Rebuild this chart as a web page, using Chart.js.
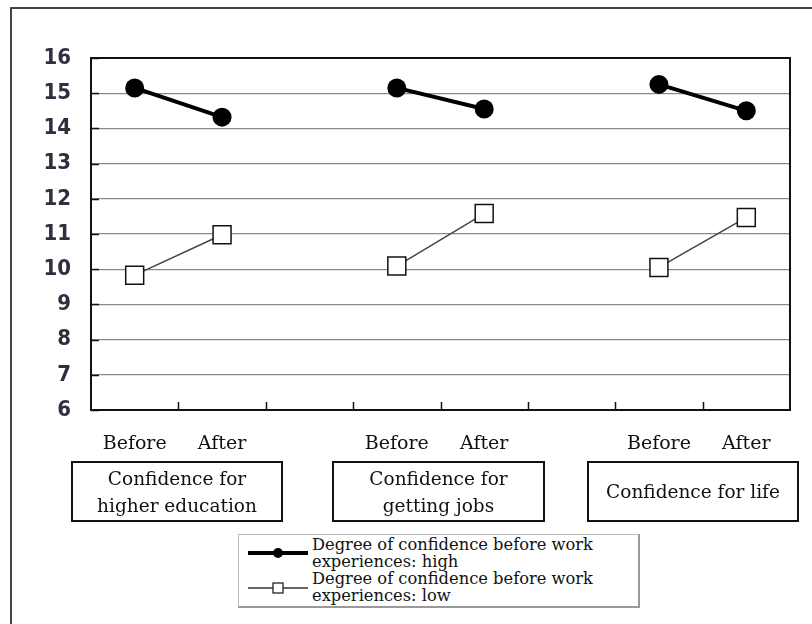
<!DOCTYPE html>
<html>
<head>
<meta charset="utf-8">
<script src="https://cdn.jsdelivr.net/npm/chart.js@4.4.1/dist/chart.umd.min.js"></script>
<style>
  html, body { margin: 0; padding: 0; background: #fff; overflow: hidden; }
  body { width: 812px; height: 624px; position: relative; }
  #frame { position: absolute; left: 10px; top: 7px; width: 900px; height: 700px;
           border: 2px solid #444; box-sizing: border-box; }
  #chart { position: absolute; left: 0; top: 0; }
  .cat { position: absolute; top: 461px; height: 61px; border: 2px solid #111; box-sizing: border-box;
         display: flex; align-items: center; justify-content: center; text-align: center;
         font-family: "DejaVu Serif", serif; font-size: 18.5px; line-height: 27px; color: #111; }
  #legend { position: absolute; left: 238px; top: 534px; width: 402px; height: 74px;
            border: 1px solid #bbb; border-right: 2px solid #999; border-bottom: 2px solid #999;
            box-sizing: border-box; }
  #legend svg { position: absolute; left: 9px; top: 0; }
  #legend .txt { position: absolute; left: 73px; top: 1px; font-family: "DejaVu Serif", serif;
                 font-size: 16.3px; line-height: 17px; color: #111; white-space: nowrap; }
</style>
</head>
<body>
<div id="frame"></div>
<canvas id="chart" width="812" height="470"></canvas>
<div class="cat" style="left:71px;width:212px;">Confidence for<br>higher education</div>
<div class="cat" style="left:332px;width:213px;">Confidence for<br>getting jobs</div>
<div class="cat" style="left:587px;width:212px;">Confidence for life</div>
<div id="legend">
  <svg width="62" height="72">
    <line x1="0" y1="18" x2="60" y2="18" stroke="#000" stroke-width="4"/>
    <circle cx="30" cy="18" r="5" fill="#000"/>
    <line x1="0" y1="53" x2="60" y2="53" stroke="#333" stroke-width="1.5"/>
    <rect x="25" y="48" width="10" height="10" fill="#fff" stroke="#222" stroke-width="1.3"/>
  </svg>
  <div class="txt" id="legend-text"></div>
</div>
<script>
// categories (blank slots separate the three groups)
const categories = ["Before", "After", "", "Before", "After", "", "Before", "After"];
const seriesNames = [
  "Degree of confidence before work experiences: high",
  "Degree of confidence before work experiences: low"
];
const highValues = [15.15, 14.32, null, 15.15, 14.55, null, 15.25, 14.5];
const lowValues = [9.83, 10.98, null, 10.09, 11.58, null, 10.05, 11.47];
const yTicks = [6, 7, 8, 9, 10, 11, 12, 13, 14, 15, 16];

document.getElementById("legend-text").innerHTML =
  "Degree of confidence before work<br>experiences: high<br>" +
  "Degree of confidence before work<br>experiences: low";

// plot frame plus the short inward tick marks
const frameTicks = {
  id: "frameTicks",
  afterDraw(chart) {
    const ctx = chart.ctx;
    const a = chart.chartArea;
    const x = chart.scales.x;
    const y = chart.scales.y;
    ctx.save();
    ctx.strokeStyle = "#111";
    ctx.lineWidth = 1.5;
    for (let i = 1; i < categories.length; i++) {
      const px = Math.round((x.getPixelForValue(i - 1) + x.getPixelForValue(i)) / 2) + 0.5;
      ctx.beginPath();
      ctx.moveTo(px, a.bottom);
      ctx.lineTo(px, a.bottom - 8);
      ctx.stroke();
    }
    yTicks.forEach((v) => {
      const py = Math.round(y.getPixelForValue(v)) + 0.5;
      ctx.beginPath();
      ctx.moveTo(a.left, py);
      ctx.lineTo(a.left + 8, py);
      ctx.stroke();
    });
    ctx.lineWidth = 2;
    ctx.strokeRect(a.left, a.top, a.right - a.left, a.bottom - a.top);
    ctx.restore();
  }
};

new Chart(document.getElementById("chart"), {
  type: "line",
  data: {
    labels: categories,
    datasets: [
      {
        label: seriesNames[0],
        data: highValues,
        borderColor: "#000",
        backgroundColor: "#000",
        borderWidth: 4,
        pointStyle: "circle",
        pointRadius: 9.5,
        pointBorderWidth: 0,
        spanGaps: false
      },
      {
        label: seriesNames[1],
        data: lowValues,
        borderColor: "#444",
        backgroundColor: "#fff",
        borderWidth: 1.5,
        pointStyle: "rect",
        pointRadius: 12.7,
        pointBorderColor: "#111",
        pointBorderWidth: 1.5,
        spanGaps: false
      }
    ]
  },
  options: {
    responsive: false,
    animation: false,
    layout: { padding: { left: 0, top: 58, right: 22, bottom: 10 } },
    plugins: {
      legend: { display: false },
      tooltip: { enabled: false }
    },
    scales: {
      x: {
        offset: true,
        grid: { display: false, drawTicks: false },
        border: { display: false },
        ticks: {
          padding: 23,
          autoSkip: false,
          maxRotation: 0,
          color: "#111",
          font: { family: "DejaVu Serif", size: 19 }
        },
        afterFit(scale) {
          scale.height = 50;
          scale.paddingLeft = 0;
          scale.paddingRight = 0;
        }
      },
      y: {
        min: 6,
        max: 16,
        afterBuildTicks(scale) { scale.ticks = yTicks.map((v) => ({ value: v })); },
        grid: {
          drawTicks: false,
          color: "#8a8a8a",
          lineWidth: 1.2
        },
        border: { display: false },
        ticks: {
          padding: 20,
          color: "#2e3040",
          font: { family: "'Liberation Sans Narrow', 'DejaVu Sans Condensed', sans-serif", size: 22, weight: "bold" }
        },
        afterFit(scale) { scale.width = 91; }
      }
    }
  },
  plugins: [frameTicks]
});
</script>
</body>
</html>
